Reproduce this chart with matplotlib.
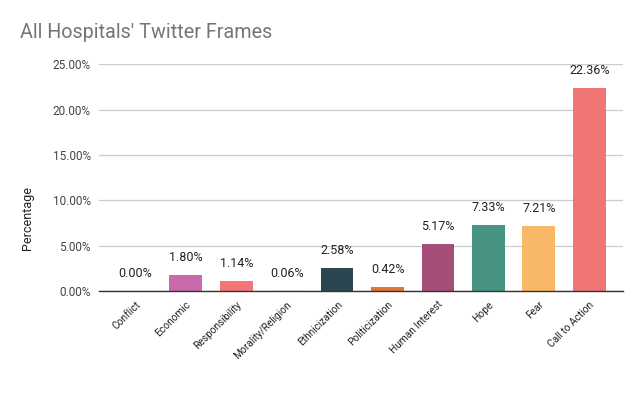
import matplotlib
matplotlib.use("Agg")
import matplotlib.pyplot as plt

categories = ["Conflict", "Economic", "Responsibility", "Morality/Religion", "Ethnicization",
              "Politicization", "Human Interest", "Hope", "Fear", "Call to Action"]
values = [0.00, 1.80, 1.14, 0.06, 2.58, 0.42, 5.17, 7.33, 7.21, 22.36]
colors = ["#4285f4", "#c86aab", "#f47575", "#e8e8e8", "#2b4650",
          "#e07638", "#a54e79", "#479484", "#f8b865", "#f07575"]
yticks = [0, 5, 10, 15, 20, 25]

plt.rcParams['font.family'] = ['Roboto', 'DejaVu Sans']
fig = plt.figure(figsize=(6.43, 3.97), dpi=100)
ax = fig.add_axes([0.154, 0.267, 0.815, 0.571])
x = list(range(len(categories)))
ax.bar(x, values, width=0.65, color=colors, zorder=3)
for xi, v in zip(x, values):
    ax.text(xi, v + 1.2, f"{v:.2f}%", ha='center', va='bottom', fontsize=9, color='#222222')
ax.set_xlim(-0.72, 9.67)
ax.set_ylim(0, 25)
ax.set_yticks(yticks)
ax.set_yticklabels([f"{t:.2f}%" for t in yticks], fontsize=8.5, color='#444444')
ax.yaxis.grid(True, color='#cccccc', linewidth=0.9, zorder=0)
ax.set_xticks(x)
ax.set_xticklabels(categories, rotation=45, ha='right', rotation_mode='anchor', fontsize=7.3, color='#222222')
ax.tick_params(axis='both', length=0, pad=6)
ax.tick_params(axis='x', pad=6)
for s in ['top', 'right', 'left']:
    ax.spines[s].set_visible(False)
ax.spines['bottom'].set_color('#333333')
ax.spines['bottom'].set_linewidth(1.0)
ax.spines['bottom'].set_zorder(4)
ax.set_ylabel("Percentage", fontsize=9, color='#222222')
ax.yaxis.set_label_coords(-0.124, 0.32)
fig.text(0.031, 0.917, "All Hospitals' Twitter Frames", fontsize=14.2, color='#757575', ha='left', va='center')
fig.savefig("out.png", dpi=100)
